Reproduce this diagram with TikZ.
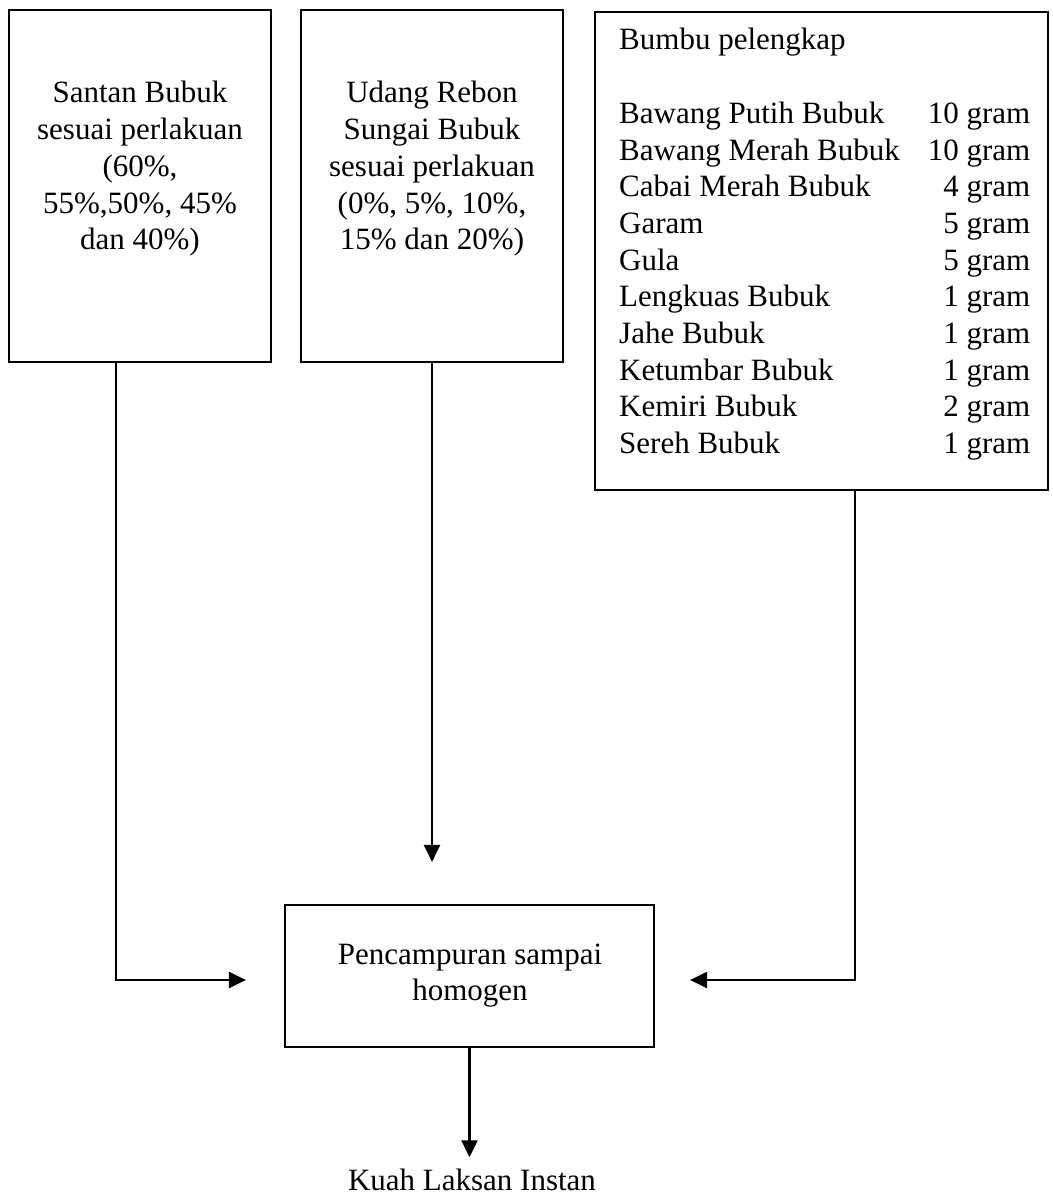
\documentclass[tikz,border=0pt]{standalone}
\usepackage{fontspec}
\setmainfont{Liberation Serif}
\usetikzlibrary{arrows.meta}
\begin{document}
\begin{tikzpicture}[x=1pt,y=-1pt,
  box/.style={draw, line width=2.2pt, inner sep=0pt},
  conn/.style={line width=2.2pt, -{Triangle[length=17pt,width=16pt]}},
  txt/.style={inner sep=0pt, font=\fontsize{31}{36.7}\selectfont}]
\useasboundingbox (0,0) rectangle (1052,1196);
% boxes
\node[box, minimum width=262pt, minimum height=352pt] (b1) at (140,186) {};
\node[box, minimum width=262pt, minimum height=352pt] (b2) at (432,186) {};
\node[box, minimum width=453pt, minimum height=478pt] (b3) at (821.5,251) {};
\node[box, minimum width=369pt, minimum height=142pt] (b4) at (469.5,976) {};
% texts
\node[txt, anchor=base] (t1) at (140,103) {\begin{tabular}[t]{@{}c@{}}Santan Bubuk\\ sesuai perlakuan\\ (60\%,\\ 55\%,50\%, 45\%\\ dan 40\%)\end{tabular}};
\node[txt, anchor=base] (t2) at (432,103) {\begin{tabular}[t]{@{}c@{}}Udang Rebon\\ Sungai Bubuk\\ sesuai perlakuan\\ (0\%, 5\%, 10\%,\\ 15\% dan 20\%)\end{tabular}};
\node[txt, anchor=base west] (t3) at (619,50) {\begin{tabular*}{411pt}[t]{@{}l@{\extracolsep{\fill}}r@{}}
Bumbu pelengkap & \\
 & \\
Bawang Putih Bubuk & 10 gram\\
Bawang Merah Bubuk & 10 gram\\
Cabai Merah Bubuk & 4 gram\\
Garam & 5 gram\\
Gula & 5 gram\\
Lengkuas Bubuk & 1 gram\\
Jahe Bubuk & 1 gram\\
Ketumbar Bubuk & 1 gram\\
Kemiri Bubuk & 2 gram\\
Sereh Bubuk & 1 gram
\end{tabular*}};
\node[txt, anchor=base] (t4) at (470,964) {\begin{tabular}[t]{@{}c@{}}Pencampuran sampai\\ homogen\end{tabular}};
\node[txt, anchor=base] (out) at (472,1190) {Kuah Laksan Instan};
% connectors
\coordinate (L) at (116,980);
\coordinate (R) at (855,980);
\draw[conn, shorten >=38pt] (b1.south -| L) |- (b4.west |- L);
\draw[conn, shorten >=42pt] (b2.south) -- (b2.south |- b4.north);
\draw[conn, shorten >=35pt] (b3.south -| R) |- (b4.east |- R);
\draw[conn, shorten >=11pt] (b4.south) -- (b4.south |- out.north);
\end{tikzpicture}
\end{document}
